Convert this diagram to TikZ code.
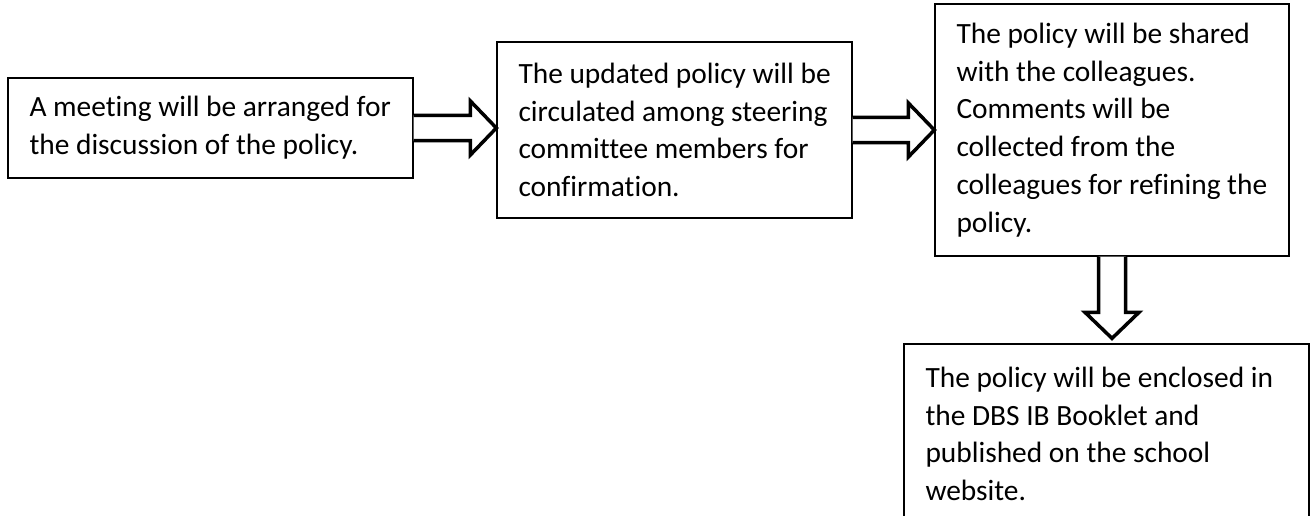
\documentclass[tikz,border=0pt]{standalone}
\usepackage{fontspec}
\setmainfont{Carlito}[Ligatures=NoCommon]
\usetikzlibrary{calc}

\tikzset{
  stage/.style={draw, line width=1.3pt, rectangle, inner xsep=0pt, align=flush left,
    font=\fontsize{29.4}{37.7}\selectfont, execute at begin node={\leftskip=21.5pt}},
  hollow/.style={draw, line width=3.5pt, fill=white, line join=miter},
}

\begin{document}
\begin{tikzpicture}[x=1pt, y=-1pt]
    \useasboundingbox (0, 0) rectangle (1316, 516);
    \node [stage, text width=405pt, minimum height=100pt] (meet) at (210.5, 128)
        {A meeting will be arranged for\\the discussion of the policy.};
    \node [stage, text width=355pt, minimum height=176pt] (circ) at (674.5, 130)
        {The updated policy will be\\circulated among steering\\committee members for\\confirmation.};
    \node [stage, text width=354pt, minimum height=252pt] (share) at (1112, 130)
        {The policy will be shared\\with the colleagues.\\Comments will be\\collected from the\\colleagues for refining the\\policy.};
    \node [stage, text width=405pt, minimum height=180pt] (book) at (1106.5, 434)
        {The policy will be enclosed in\\the DBS IB Booklet and\\published on the school\\website.};
    \coordinate (t1) at (meet.east -| circ.west);
    \coordinate (t2) at (circ.east -| share.west);
    \coordinate (t3) at ($(share.south |- book.north)+(0, -5)$);
    \draw [hollow] ($(meet.east)+(0, -12.5)$) -- ($(t1)+(-26, -12.5)$) -- ($(t1)+(-26, -27)$)
        -- (t1) -- ($(t1)+(-26, 27)$) -- ($(t1)+(-26, 12.5)$) -- ($(meet.east)+(0, 12.5)$);
    \draw [hollow] ($(circ.east)+(0, -12.5)$) -- ($(t2)+(-26, -12.5)$) -- ($(t2)+(-26, -27)$)
        -- (t2) -- ($(t2)+(-26, 27)$) -- ($(t2)+(-26, 12.5)$) -- ($(circ.east)+(0, 12.5)$);
    \draw [hollow] ($(share.south)+(-13.5, 0)$) -- ($(t3)+(-13.5, -26)$) -- ($(t3)+(-27, -26)$)
        -- (t3) -- ($(t3)+(27, -26)$) -- ($(t3)+(13.5, -26)$) -- ($(share.south)+(13.5, 0)$);
\end{tikzpicture}
\end{document}
